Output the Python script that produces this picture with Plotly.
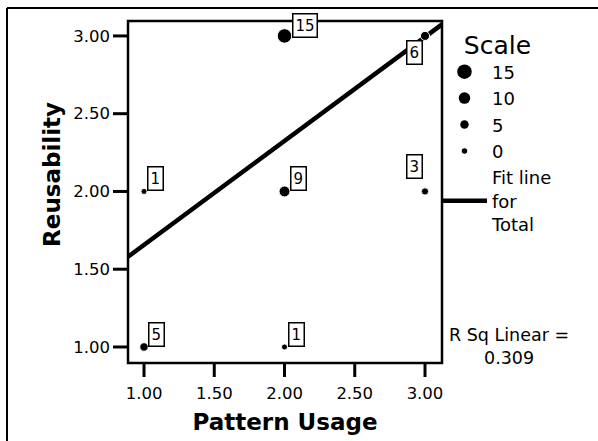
import numpy as np
import plotly.graph_objects as go

# ---- data ----
pattern_usage = [1, 1, 2, 2, 2, 3, 3]
reusability = [1, 2, 1, 2, 3, 2, 3]
counts = [5, 1, 1, 9, 15, 3, 6]
scale_levels = [15, 10, 5, 0]
x_ticks = [1.0, 1.5, 2.0, 2.5, 3.0]
y_ticks = [1.0, 1.5, 2.0, 2.5, 3.0]

FONT = "DejaVu Sans"
PLOT_W, PLOT_H = 314, 342

def msize(n):
    return 5.5 + 0.6 * n

# weighted linear fit
xs = np.repeat(pattern_usage, counts).astype(float)
ys = np.repeat(reusability, counts).astype(float)
slope, intercept = np.polyfit(xs, ys, 1)
r2 = np.corrcoef(xs, ys)[0, 1] ** 2

x_range = [0.886, 3.121]
y_range = [0.897, 3.096]

fig = go.Figure()

for n in scale_levels:
    fig.add_trace(go.Scatter(
        x=[None], y=[None], mode="markers", name=str(n),
        marker=dict(size=msize(n), color="black", opacity=1), showlegend=True))

fx = np.array(x_range)
fig.add_trace(go.Scatter(
    x=fx, y=intercept + slope * fx, mode="lines",
    line=dict(color="black", width=4.5),
    name="Fit line<br>for<br>Total", showlegend=True))

fig.add_trace(go.Scatter(
    x=pattern_usage, y=reusability, mode="markers",
    marker=dict(size=[msize(n) for n in counts], color="black", opacity=1),
    showlegend=False, cliponaxis=False))

xmax, ymax = max(pattern_usage), max(reusability)
annotations = []
for x, y, n in zip(pattern_usage, reusability, counts):
    r = msize(n) / 2
    if x == xmax:
        xa, xs_ = "right", -2
    else:
        xa, xs_ = "left", max(r, 2)
    if x == xmax and y == ymax:
        ya, ys_ = "top", -4
    elif x == xmax:
        ya, ys_ = "bottom", 12
    elif y == ymax:
        ya, ys_ = "bottom", -2
    else:
        ya, ys_ = "bottom", 0
    annotations.append(dict(
        x=x, y=y, xref="x", yref="y", text=str(n), showarrow=False,
        xanchor=xa, yanchor=ya, xshift=xs_, yshift=ys_,
        font=dict(family=FONT, size=15, color="black"),
        bgcolor="white", bordercolor="black", borderwidth=1.5, borderpad=2))

annotations.append(dict(
    x=-0.242, y=0.55, xref="paper", yref="paper", text="<b>Reusability</b>",
    textangle=-90, showarrow=False, xanchor="center", yanchor="middle",
    font=dict(family=FONT, size=23, color="black")))

annotations.append(dict(
    x=1.213, y=0.047, xref="paper", yref="paper",
    text=f"R Sq Linear =<br>{r2:.3f}", showarrow=False, align="center",
    xanchor="center", yanchor="middle",
    font=dict(family=FONT, size=17.5, color="black")))

# outer page frame (top and left edges) and plot frame
px = lambda p: (p - 128) / PLOT_W
py = lambda p: (363 - p) / PLOT_H
shapes = [
    dict(type="line", xref="paper", yref="paper", x0=px(7), x1=px(640),
         y0=py(8), y1=py(8), line=dict(color="black", width=2)),
    dict(type="line", xref="paper", yref="paper", x0=px(7), x1=px(7),
         y0=py(8), y1=py(460), line=dict(color="black", width=2)),
    dict(type="rect", xref="paper", yref="paper", x0=0, x1=1, y0=0, y1=1,
         line=dict(color="black", width=2.5), layer="above"),
]
# tick marks drawn as shapes anchored to axis values
for v in x_ticks:
    shapes.append(dict(type="line", xref="x", yref="paper", x0=v, x1=v,
                       y0=0, y1=-14 / PLOT_H, line=dict(color="black", width=3)))
for v in y_ticks:
    shapes.append(dict(type="line", xref="paper", yref="y", y0=v, y1=v,
                       x0=0, x1=-15 / PLOT_W, line=dict(color="black", width=3)))

axis_common = dict(
    showgrid=False, zeroline=False, showline=False,
    ticks="", showticklabels=True,
    tickfont=dict(family=FONT, size=16.5, color="black"))

fig.update_layout(
    template="none",
    width=598, height=441,
    margin=dict(l=128, r=156, t=21, b=78),
    paper_bgcolor="white", plot_bgcolor="white",
    font=dict(family=FONT, color="black"),
    annotations=annotations,
    shapes=shapes,
    legend=dict(
        x=0.984, y=1.0, xanchor="left", yanchor="top",
        font=dict(family=FONT, size=18, color="black"),
        title=dict(text="Scale", font=dict(family=FONT, size=25), side="top center"),
        itemsizing="trace", itemwidth=45, tracegroupgap=0,
        bgcolor="rgba(0,0,0,0)", borderwidth=0),
    xaxis=dict(
        range=x_range, tickmode="array", tickvals=x_ticks,
        ticktext=[f"{v:.2f}" for v in x_ticks], ticklabelstandoff=18,
        title=dict(text="<b>Pattern Usage</b>",
                   font=dict(family=FONT, size=23, color="black"), standoff=12),
        **axis_common),
    yaxis=dict(
        range=y_range, tickmode="array", tickvals=y_ticks,
        ticktext=[f"{v:.2f}" for v in y_ticks], ticklabelstandoff=17,
        **axis_common),
)

fig.write_html("out.html")
